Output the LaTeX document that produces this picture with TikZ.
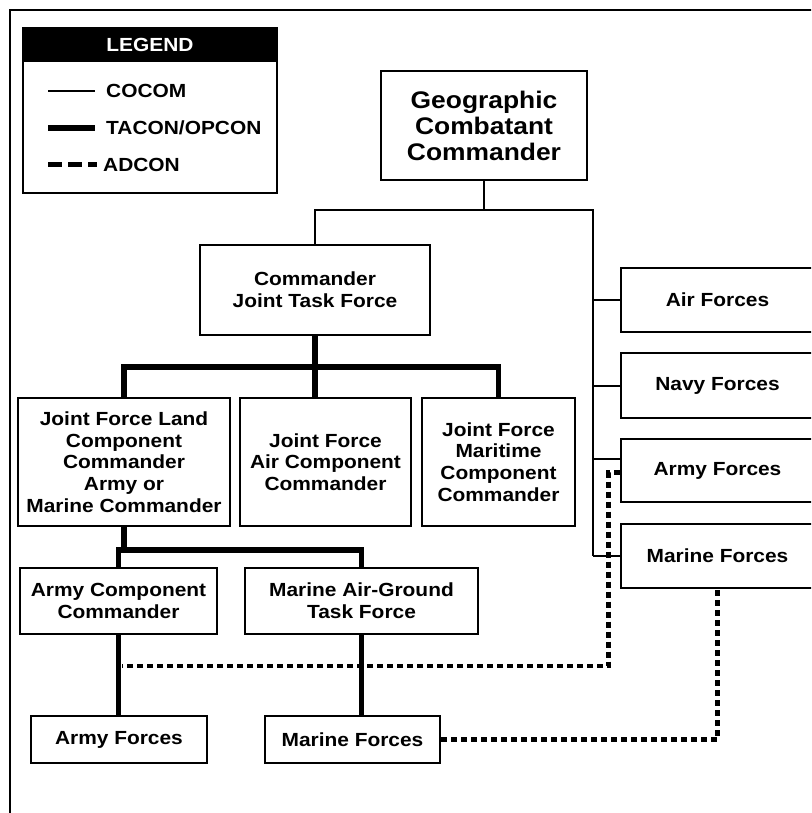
\documentclass[tikz,border=0pt]{standalone}
\usepackage{fontspec}
\setmainfont{Liberation Sans}[FakeStretch=1.1]
\begin{document}
\begin{tikzpicture}[x=1pt,y=-1pt,
  box/.style={draw, line width=2.6pt, rectangle, inner sep=0pt, align=center,
    font=\bfseries\fontsize{19}{21.7}\selectfont},
  bigbox/.style={box, font=\bfseries\fontsize{24}{26}\selectfont},
  cocomline/.style={line width=2pt},
  taconline/.style={line width=5.5pt},
  adconline/.style={line width=4.5pt, dash pattern=on 6pt off 4pt},
  legtext/.style={anchor=west, inner sep=0pt, font=\bfseries\fontsize{19}{21}\selectfont}]
\useasboundingbox (0,0) rectangle (811,813);
\clip (0,0) rectangle (811,813);
% outer frame
\draw[line width=2.6pt] (10,830) -- (10,10) -- (830,10);

% legend
\node[fill=black, minimum width=254pt, minimum height=34pt, inner sep=0pt, text=white,
  font=\bfseries\fontsize{19}{21}\selectfont] (legh) at (150,45) {LEGEND};
\node[draw, line width=2.6pt, minimum width=254pt, minimum height=165pt, inner sep=0pt] (leg) at (150,110.5) {};
\coordinate (l1a) at (48,91); \coordinate (l1b) at (95,91);
\coordinate (l2a) at (48,128); \coordinate (l2b) at (95,128);
\coordinate (l3a) at (48,165); \coordinate (l3b) at (97,165);
\draw[cocomline] (l1a) -- (l1b);
\draw[taconline] (l2a) -- (l2b);
\draw[line width=5pt, dash pattern=on 13.5pt off 6.5pt] (l3a) -- (l3b);
\node[legtext] (t1) at (106,91) {COCOM};
\node[legtext] (t2) at (106,128) {TACON/OPCON};
\node[legtext] (t3) at (103,165) {ADCON};

% boxes
\node[bigbox, minimum width=206pt, minimum height=109pt] (gcc) at (484,125.5) {Geographic\\Combatant\\Commander};
\node[box, minimum width=230pt, minimum height=90pt] (cjtf) at (315,290) {Commander\\Joint Task Force};
\node[box, minimum width=212pt, minimum height=128pt] (jflcc) at (124,462) {Joint Force Land\\Component\\Commander\\Army or\\Marine Commander};
\node[box, minimum width=171pt, minimum height=128pt] (jfacc) at (325.5,462) {Joint Force\\Air Component\\Commander};
\node[box, minimum width=153pt, minimum height=128pt] (jfmcc) at (498.5,462) {Joint Force\\Maritime\\Component\\Commander};
\node[box, minimum width=197pt, minimum height=66pt] (acc) at (118.5,601) {Army Component\\Commander};
\node[box, minimum width=233pt, minimum height=66pt] (magtf) at (361.5,601) {Marine Air-Ground\\Task Force};
\node[box, minimum width=176pt, minimum height=47pt] (af) at (119,739.5) {Army Forces};
\node[box, minimum width=175pt, minimum height=47pt] (mf) at (352.5,739.5) {Marine Forces};
\node[box, minimum width=193pt, minimum height=64pt] (rair) at (717.5,300) {Air Forces};
\node[box, minimum width=193pt, minimum height=65pt] (rnavy) at (717.5,385.5) {Navy Forces};
\node[box, minimum width=193pt, minimum height=63pt] (rarmy) at (717.5,470.5) {Army Forces};
\node[box, minimum width=193pt, minimum height=64pt] (rmar) at (717.5,556) {Marine Forces};

% COCOM lines
\coordinate (tl) at (315,210);
\coordinate (tr) at (593,210);
\draw[cocomline] (gcc.south) -- (gcc.south |- tl);
\draw[cocomline] (cjtf.north) -- (tl) -- (tr) -- (tr |- rmar.west);
\draw[cocomline] (rair.west) -- (rair.west -| tr);
\draw[cocomline] (rnavy.west) -- (rnavy.west -| tr);
\draw[cocomline] ([yshift=11.5pt]rarmy.west) -- ([yshift=11.5pt]rarmy.west -| tr);
\draw[cocomline] (rmar.west) -- (rmar.west -| tr);

% TACON/OPCON lines
\coordinate (b1) at (0,367);
\coordinate (b2) at (0,550);
\draw[taconline] (cjtf.south) -- (cjtf.south |- jfacc.north);
\draw[taconline] (jflcc.north) -- (jflcc.north |- b1) -- (jfmcc.north |- b1) -- (jfmcc.north);
\draw[taconline] (jflcc.south) -- (jflcc.south |- b2);
\draw[taconline] (acc.north) -- (acc.north |- b2) -- (magtf.north |- b2) -- (magtf.north);
\draw[taconline] (acc.south) -- (acc.south |- af.north);
\draw[taconline] (magtf.south) -- (magtf.south |- mf.north);

% ADCON lines
\coordinate (b3) at (0,666);
\draw[adconline] ([yshift=-2pt]rarmy.west) -- ++(-11,0) |- ([xshift=3pt]acc.south |- b3);
\draw[adconline] (mf.east) -| (rmar.south);
\end{tikzpicture}
\end{document}
